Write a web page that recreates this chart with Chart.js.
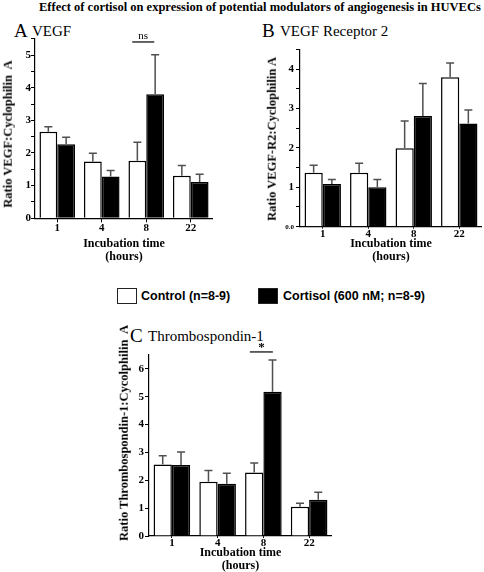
<!DOCTYPE html>
<html>
<head>
<meta charset="utf-8">
<script src="https://cdn.jsdelivr.net/npm/chart.js@4.4.0/dist/chart.umd.min.js"></script>
<style>
  body { margin: 0; background: #fff; }
  #page { position: relative; width: 484px; height: 572px; overflow: hidden; }
  .txt { position: absolute; white-space: nowrap; color: #000; font-family: "Liberation Serif", serif; line-height: 1; }
  .leg { font-family: "Liberation Sans", Arial, sans-serif; font-weight: bold; font-size: 12.5px; }
  .ytitle { position: absolute; white-space: nowrap; font-family: "Liberation Serif", serif; font-weight: bold;
            font-size: 12.5px; line-height: 1; transform: translate(-50%, -50%) rotate(-90deg); }
  .swatch { position: absolute; width: 18px; height: 14px; border: 1px solid #222; }
  canvas { position: absolute; }
</style>
</head>
<body>
<div id="page">
  <div class="txt" style="left:39px;top:0.5px;font-size:12.5px;font-weight:bold">Effect of cortisol on expression of potential modulators of angiogenesis in HUVECs</div>

  <div class="txt" style="left:14px;top:20.5px;font-size:19px">A</div>
  <div class="txt" style="left:32px;top:24px;font-size:15px">VEGF</div>
  <div class="txt" style="left:262px;top:20.5px;font-size:19px">B</div>
  <div class="txt" style="left:280px;top:24px;font-size:15px">VEGF Receptor 2</div>
  <div class="txt" style="left:130px;top:326px;font-size:19px">C</div>
  <div class="txt" style="left:148px;top:329px;font-size:15px">Thrombospondin-1</div>

  <div class="swatch" style="left:117px;top:288px;background:#fff"></div>
  <div class="txt leg" style="left:141px;top:289.5px">Control (n=8-9)</div>
  <div class="swatch" style="left:258px;top:288px;background:#000"></div>
  <div class="txt leg" style="left:283px;top:289.5px">Cortisol (600 nM; n=8-9)</div>

  <canvas id="chartA" width="213" height="233" style="left:0px;top:30px"></canvas>
  <canvas id="chartB" width="218" height="223" style="left:264px;top:40px"></canvas>
  <canvas id="chartC" width="216" height="252" style="left:116px;top:320px"></canvas>

  <div class="ytitle" style="left:7.5px;top:134px">Ratio VEGF:Cyclophilin&nbsp; A</div>
  <div class="ytitle" style="left:271.5px;top:139px">Ratio VEGF-R2:Cyclophilin A</div>
  <div class="ytitle" style="left:123.5px;top:433px">Ratio Thrombospondin-1:Cycolphilin&nbsp; A</div>
</div>

<script>
// values (mean, upward SEM)
const hours = ['1', '4', '8', '22'];

const vegfControl = [2.65, 1.74, 1.76, 1.30];
const vegfControlErr = [0.15, 0.25, 0.57, 0.32];
const vegfCortisol = [2.27, 1.28, 3.80, 1.11];
const vegfCortisolErr = [0.21, 0.18, 1.21, 0.24];

const vegfr2Control = [1.37, 1.37, 1.99, 3.79];
const vegfr2ControlErr = [0.19, 0.24, 0.69, 0.36];
const vegfr2Cortisol = [1.08, 1.00, 2.81, 2.62];
const vegfr2CortisolErr = [0.12, 0.20, 0.82, 0.34];

const tspControl = [2.57, 1.95, 2.28, 1.05];
const tspControlErr = [0.31, 0.40, 0.34, 0.13];
const tspCortisol = [2.55, 1.88, 5.18, 1.30];
const tspCortisolErr = [0.47, 0.37, 1.14, 0.27];

Chart.defaults.font.family = '"Liberation Serif", "Times New Roman", serif';
Chart.defaults.color = '#000';

// error bars, only the upper half like the original
const errorBars = {
  id: 'errorBars',
  afterDatasetsDraw(chart) {
    const { ctx } = chart;
    const y = chart.scales.y;
    ctx.save();
    ctx.strokeStyle = '#505050';
    ctx.lineWidth = 1.5;
    chart.data.datasets.forEach((ds, di) => {
      chart.getDatasetMeta(di).data.forEach((bar, i) => {
        const top = y.getPixelForValue(ds.data[i] + ds.errors[i]);
        ctx.beginPath();
        ctx.moveTo(bar.x, bar.y);
        ctx.lineTo(bar.x, top);
        ctx.moveTo(bar.x - 4, top);
        ctx.lineTo(bar.x + 4, top);
        ctx.stroke();
      });
    });
    ctx.restore();
  }
};

// significance bracket over one time point
const sigMark = {
  id: 'sigMark',
  afterDraw(chart, args, opts) {
    if (!opts || !opts.text) return;
    const { ctx } = chart;
    const cx = chart.scales.x.getPixelForValue(opts.index) + opts.shift;
    const yy = chart.scales.y.getPixelForValue(opts.value);
    ctx.save();
    ctx.strokeStyle = '#333';
    ctx.lineWidth = 1.5;
    ctx.beginPath();
    ctx.moveTo(cx - opts.half, yy);
    ctx.lineTo(cx + opts.half, yy);
    ctx.stroke();
    ctx.fillStyle = '#000';
    ctx.font = opts.font;
    ctx.textAlign = 'center';
    ctx.textBaseline = 'alphabetic';
    ctx.fillText(opts.text, cx, yy - opts.lift);
    ctx.restore();
  }
};

function makeChart(id, ctrl, ctrlErr, cort, cortErr, yMax, box, xTick, sig) {
  const ctx = document.getElementById(id).getContext('2d');
  return new Chart(ctx, {
    type: 'bar',
    data: {
      labels: hours,
      datasets: [
        { label: 'Control (n=8-9)', data: ctrl, errors: ctrlErr,
          backgroundColor: '#fff', borderColor: '#000', borderWidth: 1.5 },
        { label: 'Cortisol (600 nM; n=8-9)', data: cort, errors: cortErr,
          backgroundColor: '#000', borderColor: '#000', borderWidth: 1.5 }
      ]
    },
    options: {
      responsive: false,
      animation: false,
      events: [],
      layout: { padding: { top: box.padTop, left: 0, right: 0, bottom: 0 } },
      datasets: { bar: { categoryPercentage: 0.8, barPercentage: 1.0 } },
      plugins: {
        legend: { display: false },
        tooltip: { enabled: false },
        sigMark: sig
      },
      scales: {
        x: {
          afterFit: s => { s.height = box.xHeight; },
          grid: { display: true, drawOnChartArea: false, offset: false, color: '#000', tickLength: xTick, tickWidth: 1 },
          border: { display: true, color: '#000', width: 1.2 },
          ticks: { font: { size: 11, weight: 'bold', lineHeight: 1 }, padding: 0 },
          title: {
            display: true,
            text: ['Incubation time', '(hours)'],
            font: { size: 12, weight: 'bold', lineHeight: 13 / 12 },
            padding: 0
          }
        },
        y: {
          min: 0,
          max: yMax,
          afterFit: s => { s.width = box.yWidth; },
          afterBuildTicks: s => {
            const t = [];
            for (let v = 0; v <= yMax + 1e-9; v += 0.5) t.push({ value: v });
            s.ticks = t;
          },
          grid: { display: true, drawOnChartArea: false, color: '#000', tickLength: 4, tickWidth: 1 },
          border: { display: true, color: '#000', width: 1.2 },
          ticks: {
            padding: box.tickPad,
            callback: v => (v === 0 && box.zeroLabel) ? box.zeroLabel : (Number.isInteger(v) ? String(v) : ''),
            font: c => (c.tick && c.tick.value === 0 && box.zeroLabel)
              ? { size: 7, weight: 'bold' }
              : { size: 11, weight: 'bold' }
          }
        }
      }
    },
    plugins: [errorBars, sigMark]
  });
}

makeChart('chartA', vegfControl, vegfControlErr, vegfCortisol, vegfCortisolErr, 5.5,
  { padTop: 8.7, xHeight: 44.7, yWidth: 35, tickPad: 0 }, 4,
  { index: 2, value: 5.4, shift: -3, half: 11, lift: 3, text: 'ns', font: '11px "Liberation Serif", serif' });

makeChart('chartB', vegfr2Control, vegfr2ControlErr, vegfr2Cortisol, vegfr2CortisolErr, 4.5,
  { padTop: 9.3, xHeight: 36.3, yWidth: 36, tickPad: 2, zeroLabel: '0.0' }, 2,
  null);

makeChart('chartC', tspControl, tspControlErr, tspCortisol, tspCortisolErr, 6.5,
  { padTop: 35, xHeight: 36, yWidth: 33, tickPad: 1 }, 2,
  { index: 2, value: 6.61, shift: -2, half: 11.5, lift: 1, text: '*', font: 'bold 13px "Liberation Serif", serif' });
</script>
</body>
</html>
